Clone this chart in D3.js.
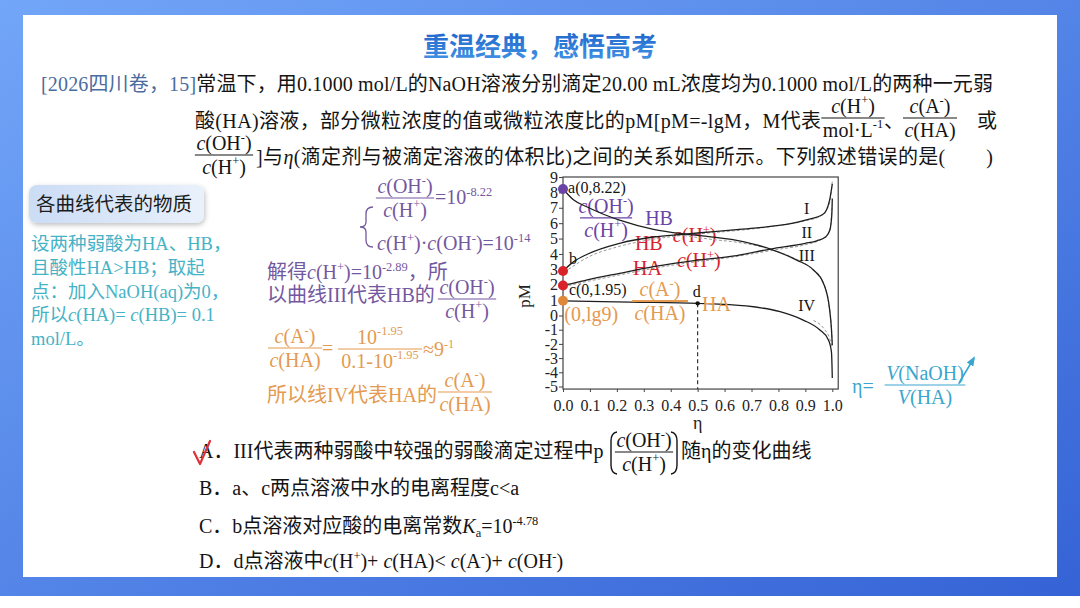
<!DOCTYPE html>
<html>
<head>
<meta charset="utf-8">
<script src="https://cdn.jsdelivr.net/npm/d3@7"></script>
<style>
body { margin: 0; background: #fff; }
svg { display: block; }
</style>
</head>
<body>
<svg id="slide" width="1080" height="608"></svg>
<script>
// values (eta, pM)
var xTicks = [0, 0.1, 0.2, 0.3, 0.4, 0.5, 0.6, 0.7, 0.8, 0.9, 1.0];
var yTicks = [-5, -4, -3, -2, -1, 0, 1, 2, 3, 4, 5, 6, 7, 8, 9];

var curveI = [[0, 2.89], [0.04, 3.5], [0.09, 3.98], [0.21, 4.69], [0.336, 5.1], [0.45, 5.28], [0.5, 5.36],
  [0.645, 5.58], [0.72, 5.7], [0.84, 5.95], [0.9, 6.2], [0.967, 6.6], [0.99, 7.5], [1.0, 8.55]];
var curveII = [[0, 1.95], [0.04, 2.1], [0.09, 2.31], [0.21, 2.74], [0.336, 3.17], [0.5, 3.6], [0.645, 3.89],
  [0.77, 4.32], [0.9, 4.69], [0.942, 4.85], [0.975, 5.1], [0.991, 5.56], [0.998, 6.5], [1.0, 7.6]];
var curveIII = [[0, 8.22], [0.04, 7.5], [0.09, 7.05], [0.15, 6.58], [0.21, 6.2], [0.336, 5.6], [0.45, 5.3],
  [0.5, 5.2], [0.645, 4.88], [0.77, 4.32], [0.868, 3.6], [0.93, 2.96], [0.967, 2.1], [0.99, 0.4],
  [0.997, -1.0], [1.0, -2.1]];
var curveIV = [[0, 0.954], [0.25, 0.87], [0.5, 0.79], [0.68, 0.62], [0.806, 0.25], [0.892, -0.32],
  [0.954, -1.02], [0.985, -1.7], [0.997, -2.6], [1.0, -4.4]];

// grey dashed companions
var dashI = [[0.02, 3.0], [0.1, 3.85], [0.2, 4.45], [0.3, 4.85], [0.4, 5.12], [0.5, 5.3], [0.6, 5.45],
  [0.7, 5.62], [0.8, 5.85], [0.9, 6.15], [0.96, 6.5], [0.99, 7.3], [1.0, 8.7]];
var dashII = [[0.02, 1.95], [0.1, 2.25], [0.2, 2.6], [0.3, 2.95], [0.4, 3.25], [0.5, 3.5], [0.6, 3.72],
  [0.7, 4.0], [0.8, 4.3], [0.9, 4.6], [0.96, 4.95], [0.99, 5.5], [1.0, 7.2]];
var dashIII = [[0.45, 5.2], [0.55, 4.95], [0.65, 4.75], [0.75, 4.4], [0.85, 3.78], [0.92, 3.1],
  [0.96, 2.35], [0.985, 1.0], [0.995, -0.5], [1.0, -1.8]];
var dashIV = [[0.93, -0.35], [0.97, -0.95], [0.99, -1.6], [1.0, -2.3]];

var startPts = [[0, 8.22], [0, 2.89], [0, 1.95], [0, 0.954]];   // a, b, c, (0,lg9)
var pointD = [0.5, 0.79];

var SERIF = "'Liberation Serif','Times New Roman','Noto Sans CJK SC',serif";
var SANS = "'Noto Sans CJK SC','Noto Sans',sans-serif";
var PURPLE = "#6a44a6", PURPLE2 = "#74589f", RED = "#d8232a", ORANGE = "#e49a50",
    TEAL = "#46b2c6", TEAL2 = "#3aa6cf", INK = "#141414";
var startColors = [PURPLE, RED, RED, "#e0883a"];

var svg = d3.select("#slide");
var defs = svg.append("defs");

var bg = defs.append("linearGradient").attr("id", "bg").attr("x1", 0).attr("y1", 0).attr("x2", 1).attr("y2", 1);
bg.append("stop").attr("offset", 0).attr("stop-color", "#72a6f8");
bg.append("stop").attr("offset", 1).attr("stop-color", "#3563d6");
var tg = defs.append("linearGradient").attr("id", "tg").attr("x1", 0).attr("y1", 0).attr("x2", 0).attr("y2", 1);
tg.append("stop").attr("offset", 0).attr("stop-color", "#1a5ec6");
tg.append("stop").attr("offset", 1).attr("stop-color", "#4596e6");
var bx = defs.append("linearGradient").attr("id", "bx").attr("x1", 0).attr("y1", 0).attr("x2", 1).attr("y2", 0);
bx.append("stop").attr("offset", 0).attr("stop-color", "#cbdcf5");
bx.append("stop").attr("offset", 1).attr("stop-color", "#e9f1fb");
defs.append("filter").attr("id", "sh").attr("x", "-20%").attr("y", "-30%").attr("width", "140%").attr("height", "170%")
  .append("feDropShadow").attr("dx", 1).attr("dy", 2).attr("stdDeviation", 2.5).attr("flood-opacity", 0.25);
defs.append("marker").attr("id", "arr").attr("viewBox", "0 0 10 10").attr("refX", 8).attr("refY", 5)
  .attr("markerWidth", 6).attr("markerHeight", 6).attr("orient", "auto")
  .append("path").attr("d", "M0,1 L10,5 L0,9 z").attr("fill", TEAL2);

// frame of the slide
svg.append("rect").attr("width", 1080).attr("height", 596).attr("fill", "url(#bg)");
svg.append("rect").attr("x", 23).attr("y", 15).attr("width", 1034).attr("height", 562).attr("fill", "#fff");

// rich text: *italic*, ^super^, ~sub~ ; spec can be [[str, fill], ...]
function rich(g, x, y, spec, o) {
  o = Object.assign({ size: 20, fill: INK, anchor: "start", family: SERIF }, o || {});
  var t = g.append("text").attr("x", x).attr("y", y).attr("font-size", o.size)
    .attr("fill", o.fill).attr("text-anchor", o.anchor).attr("font-family", o.family);
  if (o.weight) t.attr("font-weight", o.weight);
  if (o.len) t.attr("textLength", o.len).attr("lengthAdjust", "spacing");
  var parts = typeof spec === "string" ? [[spec, null]] : spec;
  var it = false, mode = 0, cur = 0;
  parts.forEach(function(p) {
    var buf = "";
    function flush() {
      if (!buf) return;
      var off = mode === 1 ? -0.42 * o.size : mode === 2 ? 0.22 * o.size : 0;
      var ts = t.append("tspan").text(buf).attr("dy", off - cur);
      cur = off;
      if (it) ts.attr("font-style", "italic");
      if (mode) ts.attr("font-size", o.size * 0.62);
      if (p[1]) ts.attr("fill", p[1]);
      buf = "";
    }
    for (var ch of p[0]) {
      if (ch === "*") { flush(); it = !it; }
      else if (ch === "^") { flush(); mode = mode === 1 ? 0 : 1; }
      else if (ch === "~") { flush(); mode = mode === 2 ? 0 : 2; }
      else buf += ch;
    }
    flush();
  });
  return t;
}

function frac(g, cx, yl, num, den, o) {
  o = Object.assign({ size: 20, fill: INK }, o || {});
  var n = rich(g, cx, yl - o.size * 0.27, num, Object.assign({}, o, { anchor: "middle" }));
  var d = rich(g, cx, yl + o.size * 0.93, den, Object.assign({}, o, { anchor: "middle" }));
  var w = o.w || Math.max(n.node().getComputedTextLength(), d.node().getComputedTextLength()) + 3;
  g.append("line").attr("x1", cx - w / 2).attr("x2", cx + w / 2).attr("y1", yl).attr("y2", yl)
    .attr("stroke", o.lineColor || o.fill).attr("stroke-width", o.lw || 1.2);
}

// title
svg.append("text").attr("x", 540).attr("y", 56).attr("text-anchor", "middle")
  .attr("font-family", SANS).attr("font-weight", 700).attr("font-size", 26)
  .attr("fill", "url(#tg)").text("重温经典，感悟高考");

// question stem
rich(svg, 41, 91, [["[2026四川卷，15]", "#4a6c9e"],
  ["常温下，用0.1000 mol/L的NaOH溶液分别滴定20.00 mL浓度均为0.1000 mol/L的两种一元弱", null]], { len: 952 });
rich(svg, 195, 128, "酸(HA)溶液，部分微粒浓度的值或微粒浓度比的pM[pM=-lgM，M代表", { len: 626 });
frac(svg, 853, 118, "*c*(H^+^)", "mol·L^-1^");
rich(svg, 884, 128, "、");
frac(svg, 930, 118, "*c*(A^-^)", "*c*(HA)");
rich(svg, 977, 128, "或");
frac(svg, 224, 155, "*c*(OH^-^)", "*c*(H^+^)");
rich(svg, 256, 164, "]与*η*(滴定剂与被滴定溶液的体积比)之间的关系如图所示。下列叙述错误的是(\u3000\u3000)", { len: 737 });

// left hint box
svg.append("rect").attr("x", 29).attr("y", 185).attr("width", 175).attr("height", 38).attr("rx", 8)
  .attr("fill", "url(#bx)").attr("filter", "url(#sh)");
rich(svg, 36, 211, "各曲线代表的物质", { size: 19.5, family: SANS, fill: "#1c1c1c" });
var hint = ["设两种弱酸为HA、HB，", "且酸性HA>HB；取起", "点：加入NaOH(aq)为0，",
  "所以*c*(HA)= *c*(HB)= 0.1", "mol/L。"];
hint.forEach(function(s, i) { rich(svg, 31, 250 + i * 23.8, s, { size: 18.5, fill: TEAL }); });

// middle working notes
svg.append("path").attr("d", "M373,207 Q366,207 366,214 L366,222 Q366,227 360,227 Q366,227 366,232 L366,240 Q366,247 373,247")
  .attr("fill", "none").attr("stroke", PURPLE2).attr("stroke-width", 1.3);
frac(svg, 405, 198, "*c*(OH^-^)", "*c*(H^+^)", { fill: PURPLE2 });
rich(svg, 435, 204, "=10^-8.22^", { fill: PURPLE2 });
rich(svg, 377, 250, "*c*(H^+^)·*c*(OH^-^)=10^-14^", { fill: PURPLE2 });
rich(svg, 267, 279, "解得*c*(H^+^)=10^-2.89^，所", { fill: PURPLE2 });
rich(svg, 267, 302, "以曲线III代表HB的", { fill: PURPLE2 });
frac(svg, 467, 299, "*c*(OH^-^)", "*c*(H^+^)", { fill: PURPLE2 });
frac(svg, 295, 348, "*c*(A^-^)", "*c*(HA)", { fill: ORANGE });
rich(svg, 322, 355, "=", { fill: ORANGE });
frac(svg, 380, 349, "10^-1.95^", "0.1-10^-1.95^", { fill: ORANGE, w: 84 });
rich(svg, 423, 356, "≈9^-1^", { fill: ORANGE });
rich(svg, 267, 402, "所以线IV代表HA的", { fill: ORANGE });
frac(svg, 465, 392, "*c*(A^-^)", "*c*(HA)", { fill: ORANGE });

// ---- chart ----
var x = d3.scaleLinear().domain([0, 1]).range([563, 832.3]);
var y = d3.scaleLinear().domain([-5, 0, 9]).range([386.5, 315.5, 177]);
var gc = svg.append("g");

gc.append("rect").attr("x", x(0)).attr("y", y(9)).attr("width", x(1.022) - x(0))
  .attr("height", y(-5.18) - y(9)).attr("fill", "none").attr("stroke", "#444").attr("stroke-width", 1.2);

var ax = gc.append("g").attr("transform", "translate(0," + y(-5.18) + ")")
  .call(d3.axisBottom(x).tickValues(xTicks).tickSize(3).tickPadding(8).tickFormat(d3.format(".1f")));
var ay = gc.append("g").attr("transform", "translate(" + x(0) + ",0)")
  .call(d3.axisLeft(y).tickValues(yTicks).tickSize(4).tickPadding(1).tickFormat(function(d) { return String(d); }));
[ax, ay].forEach(function(a) {
  a.select(".domain").remove();
  a.selectAll("line").attr("stroke", "#444");
  a.selectAll("text").attr("font-family", SERIF).attr("font-size", 16).attr("fill", "#222");
});
gc.append("text").attr("transform", "translate(530,296) rotate(-90)").attr("text-anchor", "middle")
  .attr("font-family", SERIF).attr("font-size", 17).attr("fill", "#222").text("pM");
gc.append("text").attr("x", x(0.5)).attr("y", 429).attr("text-anchor", "middle")
  .attr("font-family", SERIF).attr("font-size", 18).attr("fill", "#222").text("η");

// labels that the curves run across
rich(gc, x(0.267), y(4.26), "HB", { fill: RED });
rich(gc, x(0.408), y(4.78), "*c*(H^+^)", { fill: RED });
rich(gc, x(0.26), y(2.63), "HA", { fill: RED });
rich(gc, x(0.423), y(3.15), "*c*(H^+^)", { fill: RED });
frac(gc, x(0.16), y(6.34), "*c*(OH^-^)", "*c*(H^+^)", { fill: PURPLE, w: 52 });
rich(gc, x(0.305), y(5.88), "HB", { fill: PURPLE });

gc.append("line").attr("x1", x(pointD[0])).attr("x2", x(pointD[0])).attr("y1", y(pointD[1])).attr("y2", y(-5.18))
  .attr("stroke", "#222").attr("stroke-width", 1.1).attr("stroke-dasharray", "4,3");

var line = d3.line().x(function(d) { return x(d[0]); }).y(function(d) { return y(d[1]); }).curve(d3.curveMonotoneX);
[dashI, dashII, dashIII, dashIV].forEach(function(c) {
  gc.append("path").attr("d", line(c)).attr("fill", "none").attr("stroke", "#9a9a9a")
    .attr("stroke-width", 1).attr("stroke-dasharray", "3,2");
});
[curveI, curveII, curveIII, curveIV].forEach(function(c) {
  gc.append("path").attr("d", line(c)).attr("fill", "none").attr("stroke", "#1e1e1e").attr("stroke-width", 1.3);
});

frac(gc, x(0.36), y(0.94), "*c*(A^-^)", "*c*(HA)", { fill: ORANGE, w: 56, lw: 2 });
rich(gc, x(0.516), y(0.26), "HA", { fill: ORANGE });
rich(gc, x(0.005), y(-0.39), "(0,lg9)", { fill: ORANGE });
rich(gc, x(0.019), y(7.96), "a(0,8.22)", { size: 16 });
rich(gc, x(0.022), y(3.33), "b", { size: 16 });
rich(gc, x(0.022), y(1.3), "c(0,1.95)", { size: 16 });
rich(gc, x(0.497), y(1.2), "d", { size: 16, anchor: "middle" });
var romans = [["I", 6.6], ["II", 5.04], ["III", 3.54], ["IV", 0.29]];
romans.forEach(function(r) { rich(gc, x(0.905), y(r[1]), r[0], { size: 16, anchor: "middle" }); });

gc.selectAll("circle.start").data(startPts).enter().append("circle").attr("class", "start")
  .attr("cx", function(d) { return x(d[0]); }).attr("cy", function(d) { return y(d[1]); })
  .attr("r", 5).attr("fill", function(d, i) { return startColors[i]; });
gc.append("circle").attr("cx", x(pointD[0])).attr("cy", y(pointD[1])).attr("r", 2.2).attr("fill", "#111");

// eta definition
rich(svg, 852, 393, "η=", { fill: TEAL2 });
frac(svg, 925, 385, "*V*(NaOH)", "*V*(HA)", { fill: TEAL2 });
svg.append("line").attr("x1", 959).attr("y1", 383).attr("x2", 974).attr("y2", 358)
  .attr("stroke", TEAL2).attr("stroke-width", 1.6).attr("marker-end", "url(#arr)");

// options
rich(svg, 199, 458, "A．III代表两种弱酸中较强的弱酸滴定过程中p");
svg.append("path").attr("d", "M617,432 Q611,433 611,441 L611,465 Q611,473 617,474")
  .attr("fill", "none").attr("stroke", INK).attr("stroke-width", 1.4);
svg.append("path").attr("d", "M671,432 Q677,433 677,441 L677,465 Q677,473 671,474")
  .attr("fill", "none").attr("stroke", INK).attr("stroke-width", 1.4);
frac(svg, 644, 452, "*c*(OH^-^)", "*c*(H^+^)");
rich(svg, 681, 458, "随η的变化曲线");
rich(svg, 199, 495, "B．a、c两点溶液中水的电离程度c<a");
rich(svg, 199, 533, "C．b点溶液对应酸的电离常数*K*~a~=10^-4.78^");
rich(svg, 199, 568, "D．d点溶液中*c*(H^+^)+ *c*(HA)< *c*(A^-^)+ *c*(OH^-^)");
svg.append("path").attr("d", "M194,452 L200,464 L210,441")
  .attr("fill", "none").attr("stroke", "#e0303a").attr("stroke-width", 2.2)
  .attr("stroke-linecap", "round").attr("stroke-linejoin", "round");
</script>
</body>
</html>
